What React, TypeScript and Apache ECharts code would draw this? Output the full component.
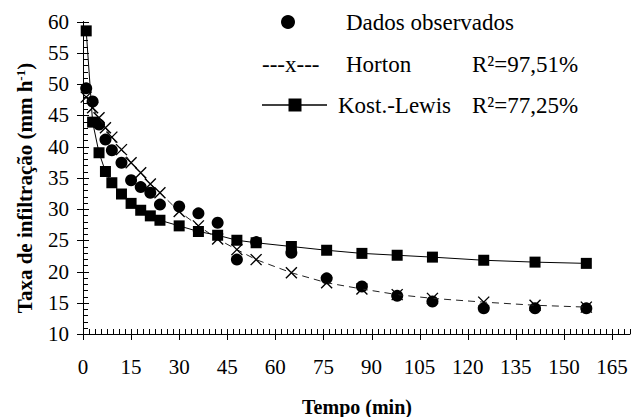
import React, { useEffect, useRef } from "react";
import * as echarts from "echarts";

const times = [1, 3, 5, 7, 9, 12, 15, 18, 21, 24, 30, 36, 42, 48, 54, 65, 76, 87, 98, 109, 125, 141, 157];
const observed = [49.3, 47.2, 43.5, 41.1, 39.4, 37.4, 34.6, 33.5, 32.6, 30.7, 30.4, 29.3, 27.8, 21.9, 24.7, 23.0, 18.9, 17.6, 16.1, 15.2, 14.1, 14.1, 14.1];
const horton = [47.9, 46.2, 44.6, 43.0, 41.5, 39.5, 37.4, 35.8, 34.0, 32.6, 29.6, 27.3, 25.2, 23.5, 21.9, 19.8, 18.2, 17.2, 16.3, 15.7, 15.1, 14.6, 14.3];
const kostLewis = [58.5, 43.9, 39.0, 36.0, 34.2, 32.4, 30.9, 29.8, 28.9, 28.2, 27.3, 26.4, 25.8, 25.0, 24.6, 24.0, 23.4, 22.9, 22.6, 22.3, 21.8, 21.5, 21.3];
const xTickLabels = [0, 15, 30, 45, 60, 75, 90, 105, 120, 135, 150, 165];
const legendNames = ["Dados observados", "Horton", "Kost.-Lewis"];
const r2Labels = ["R²=97,51%", "R²=77,25%"];

const FONT = "Liberation Serif";
const XMAX = 170.625;
const X_MINOR = 1.875;
const Y_MIN = 10;
const Y_MAX = 60;

export default function App() {
  const ref = useRef<HTMLDivElement>(null);
  useEffect(() => {
    if (!ref.current) return;
    const chart = echarts.init(ref.current, undefined, { renderer: "svg" });
    const pair = (vals: number[]) => times.map((t, i) => [t, vals[i]]);

    // tick marks placed through the axes' scales
    const xTickData: number[][] = [];
    for (let k = 0; k * X_MINOR <= XMAX + 1e-9; k++) {
      const v = k * X_MINOR;
      xTickData.push([v, Y_MIN, k % 8 === 0 && v <= 165 ? 1 : 0]);
    }
    const yTickData: number[][] = [];
    for (let v = Y_MIN; v <= Y_MAX; v++) {
      yTickData.push([0, v, v % 5 === 0 ? 1 : 0]);
    }
    const labelRich = { t: { fontFamily: FONT, fontSize: 21, color: "#000" } };

    chart.setOption({
      animation: false,
      backgroundColor: "#fff",
      textStyle: { fontFamily: FONT },
      grid: { left: 83, top: 21.5, width: 547, height: 312.5, outerBoundsMode: "none", containLabel: false },
      xAxis: {
        type: "value", min: 0, max: XMAX, interval: 15, position: "bottom",
        axisLine: { show: true, onZero: false, lineStyle: { color: "#000", width: 1 } },
        axisTick: { show: false },
        axisLabel: {
          fontSize: 21, fontFamily: FONT, color: "#000", margin: 22, rich: labelRich,
          formatter: (v: number) => (xTickLabels.indexOf(v) >= 0 ? `{t|${v}}` : ""),
        },
        splitLine: { show: false },
      },
      yAxis: {
        type: "value", min: Y_MIN, max: Y_MAX, interval: 5, position: "left",
        axisLine: { show: true, onZero: false, lineStyle: { color: "#000", width: 1 } },
        axisTick: { show: false },
        axisLabel: {
          fontSize: 21, fontFamily: FONT, color: "#000", margin: 14, rich: labelRich,
          formatter: (v: number) => `{t|${v}}`,
        },
        splitLine: { show: false },
      },
      series: [
        {
          type: "custom", name: "xticks", silent: true, clip: false, z: 1,
          data: xTickData, encode: { x: 0, y: 1 },
          renderItem: (_p: any, api: any) => {
            const pt = api.coord([api.value(0), api.value(1)]);
            const major = api.value(2) === 1;
            const x = Math.round(pt[0]) + 0.5;
            return {
              type: "line",
              shape: { x1: x, y1: pt[1] - 5, x2: x, y2: pt[1] + (major ? 6 : 0) },
              style: { stroke: "#000", lineWidth: 1 },
            };
          },
        },
        {
          type: "custom", name: "yticks", silent: true, clip: false, z: 1,
          data: yTickData, encode: { x: 0, y: 1 },
          renderItem: (_p: any, api: any) => {
            const pt = api.coord([api.value(0), api.value(1)]);
            const major = api.value(2) === 1;
            const y = Math.round(pt[1]) + 0.5;
            return {
              type: "line",
              shape: { x1: pt[0] - (major ? 6 : 0), y1: y, x2: pt[0] + (major ? 6 : 5), y2: y },
              style: { stroke: "#000", lineWidth: 1 },
            };
          },
        },
        {
          name: legendNames[0], type: "scatter",
          data: pair(observed), symbol: "circle", symbolSize: 12,
          itemStyle: { color: "#000", opacity: 1 }, z: 3,
        },
        {
          name: legendNames[1], type: "line",
          data: pair(horton), symbol: "path://M0,0L10,10M10,0L0,10", symbolSize: 11,
          showSymbol: true,
          itemStyle: { color: "#000", borderColor: "#000", borderWidth: 1.4, opacity: 1 },
          lineStyle: { color: "#222", width: 1, type: [7, 5] }, z: 4,
        },
        {
          name: legendNames[2], type: "line",
          data: pair(kostLewis), symbol: "rect", symbolSize: 11,
          showSymbol: true,
          itemStyle: { color: "#000", opacity: 1 },
          lineStyle: { color: "#000", width: 1 }, z: 5,
        },
      ],
      graphic: [
        // legend row 1
        { type: "circle", shape: { cx: 288, cy: 22, r: 7 }, style: { fill: "#000" } },
        { type: "text", x: 346, y: 22, style: { text: legendNames[0], font: `23px ${FONT}`, fill: "#000", verticalAlign: "middle" } },
        // legend row 2
        { type: "text", x: 262, y: 64, style: { text: "---x---", font: `23px ${FONT}`, fill: "#000", verticalAlign: "middle" } },
        { type: "text", x: 346, y: 64, style: { text: legendNames[1], font: `23px ${FONT}`, fill: "#000", verticalAlign: "middle" } },
        { type: "text", x: 472, y: 64, style: { text: r2Labels[0], font: `23px ${FONT}`, fill: "#000", verticalAlign: "middle" } },
        // legend row 3
        { type: "line", shape: { x1: 262, y1: 105, x2: 327, y2: 105 }, style: { stroke: "#000", lineWidth: 1.3 } },
        { type: "rect", shape: { x: 288.5, y: 98.5, width: 13, height: 13 }, style: { fill: "#000" } },
        { type: "text", x: 338, y: 105, style: { text: legendNames[2], font: `23px ${FONT}`, fill: "#000", verticalAlign: "middle" } },
        { type: "text", x: 472, y: 105, style: { text: r2Labels[1], font: `23px ${FONT}`, fill: "#000", verticalAlign: "middle" } },
        // axis titles
        {
          type: "text", x: 357, y: 407,
          style: { text: "Tempo (min)", font: `bold 20px ${FONT}`, fill: "#000", align: "center", verticalAlign: "middle" },
        },
        {
          type: "text", x: 25, y: 188, rotation: Math.PI / 2,
          style: {
            text: "Taxa de infiltração (mm h{sup|-1})",
            font: `bold 21px ${FONT}`, fill: "#000", align: "center", verticalAlign: "middle",
            rich: { sup: { font: `bold 13px ${FONT}`, fill: "#000", verticalAlign: "top", padding: [0, 0, 9, 0] } },
          },
        },
      ],
    });
    return () => chart.dispose();
  }, []);
  return <div ref={ref} style={{ position: "fixed", left: 0, top: 0, width: 631, height: 417 }} />;
}
